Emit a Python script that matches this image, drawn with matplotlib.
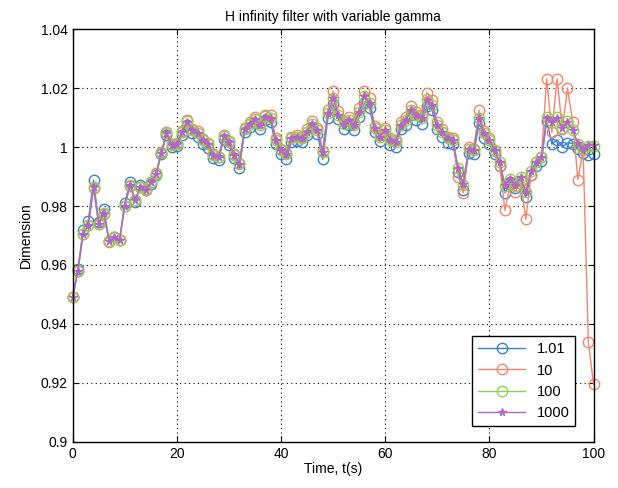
"""H infinity filter with variable gamma - dimension estimate vs time."""

import matplotlib

matplotlib.use("Agg")
import matplotlib.pyplot as plt
import numpy as np

plt.rcParams["font.family"] = ["Liberation Sans", "DejaVu Sans"]

time_s = list(range(0, 101))

gamma_labels = ["1.01", "10", "100", "1000"]

dim_g1_01 = [
    0.949, 0.9585, 0.972, 0.975, 0.9888, 0.9745, 0.979, 0.968, 0.9695, 0.9685,
    0.981, 0.988, 0.9815, 0.987, 0.9855, 0.9875, 0.9905, 0.9975, 1.004, 1.0,
    1.0005, 1.0042, 1.0075, 1.0048, 1.0036, 1.001, 0.9998, 0.9962, 0.9955, 1.0028,
    1.0008, 0.9962, 0.993, 1.005, 1.0068, 1.0082, 1.0062, 1.0092, 1.0085, 1.001,
    0.9978, 0.996, 1.0018, 1.0022, 1.0018, 1.004, 1.0068, 1.0045, 0.9958, 1.0098,
    1.0145, 1.0095, 1.0062, 1.0075, 1.0058, 1.0102, 1.015, 1.0132, 1.005, 1.002,
    1.0042, 1.0008, 1.0002, 1.006, 1.0076, 1.0108, 1.0092, 1.008, 1.0138, 1.0125,
    1.006, 1.0036, 1.0015, 1.001, 0.9915, 0.9855, 0.998, 0.9975, 1.0082, 1.0032,
    1.001, 0.9975, 0.9935, 0.9845, 0.988, 0.986, 0.9885, 0.983, 0.9905, 0.9935,
    0.9952, 1.009, 1.001, 1.0025, 1.0, 1.0015, 1.0012, 0.9995, 0.998, 0.9972,
    0.9978,
]

dim_g10 = [
    0.949, 0.958, 0.9705, 0.9735, 0.9862, 0.9738, 0.9772, 0.9678, 0.9695, 0.9685,
    0.980, 0.9868, 0.982, 0.9865, 0.9857, 0.9882, 0.9912, 0.9982, 1.0052, 1.001,
    1.0015, 1.0056, 1.0092, 1.0062, 1.0053, 1.0028, 1.0015, 0.9975, 0.9968, 1.0042,
    1.0022, 0.9976, 0.9946, 1.0066, 1.0086, 1.0102, 1.0082, 1.011, 1.0108, 1.003,
    0.9994, 0.998, 1.0036, 1.0042, 1.0036, 1.006, 1.0088, 1.0066, 0.9988, 1.0125,
    1.019, 1.0122, 1.0088, 1.0102, 1.0083, 1.0132, 1.019, 1.0168, 1.0072, 1.0042,
    1.0066, 1.003, 1.0024, 1.0084, 1.0102, 1.0138, 1.012, 1.0108, 1.0185, 1.016,
    1.0084, 1.006, 1.0036, 1.003, 0.990, 0.9845, 1.0, 0.9995, 1.0125, 1.0055,
    1.003, 0.9988, 0.9935, 0.9785, 0.9875, 0.9848, 0.9885, 0.9755, 0.9905, 0.9948,
    0.9968, 1.0232, 1.005, 1.0232, 1.0062, 1.020, 1.0086, 0.989, 0.999, 0.934,
    0.9195,
]

dim_g100 = [
    0.949, 0.958, 0.9705, 0.9735, 0.9865, 0.974, 0.9775, 0.968, 0.9695, 0.9685,
    0.980, 0.987, 0.982, 0.9865, 0.9855, 0.988, 0.991, 0.998, 1.0048, 1.0008,
    1.0012, 1.0052, 1.0087, 1.0058, 1.0049, 1.0024, 1.0012, 0.9973, 0.9965, 1.0037,
    1.0018, 0.9973, 0.9944, 1.006, 1.008, 1.0095, 1.0075, 1.0104, 1.0099, 1.0024,
    0.999, 0.9975, 1.003, 1.0035, 1.003, 1.0052, 1.008, 1.0058, 0.9984, 1.0116,
    1.0168, 1.011, 1.008, 1.0092, 1.0075, 1.012, 1.0174, 1.0151, 1.0064, 1.0035,
    1.0058, 1.0024, 1.0018, 1.0075, 1.0092, 1.0127, 1.0109, 1.0098, 1.0162, 1.0144,
    1.0075, 1.0052, 1.003, 1.0024, 0.9928, 0.9873, 0.9995, 0.999, 1.01, 1.0047,
    1.0024, 0.999, 0.995, 0.9868, 0.9893, 0.9868, 0.990, 0.9846, 0.992, 0.995,
    0.9967, 1.0102, 1.0086, 1.0102, 1.0064, 1.009, 1.0058, 1.0012, 0.9995, 1.0005,
    1.0005,
]

dim_g1000 = [
    0.949, 0.958, 0.9705, 0.9735, 0.9865, 0.974, 0.9775, 0.968, 0.9695, 0.9685,
    0.980, 0.987, 0.982, 0.9865, 0.9855, 0.988, 0.991, 0.998, 1.0047, 1.0008,
    1.0012, 1.0052, 1.0086, 1.0058, 1.0049, 1.0024, 1.0012, 0.9973, 0.9965, 1.0037,
    1.0018, 0.9973, 0.9944, 1.006, 1.008, 1.0094, 1.0075, 1.0103, 1.0098, 1.0024,
    0.999, 0.9975, 1.003, 1.0035, 1.003, 1.0052, 1.008, 1.0058, 0.9984, 1.0115,
    1.0166, 1.011, 1.008, 1.0092, 1.0075, 1.012, 1.0172, 1.015, 1.0064, 1.0035,
    1.0058, 1.0024, 1.0018, 1.0075, 1.0092, 1.0126, 1.0109, 1.0098, 1.016, 1.0143,
    1.0075, 1.0052, 1.003, 1.0024, 0.993, 0.9875, 0.9995, 0.999, 1.0098, 1.0047,
    1.0024, 0.999, 0.995, 0.987, 0.9893, 0.987, 0.990, 0.9848, 0.992, 0.995,
    0.9967, 1.0098, 1.0086, 1.0098, 1.0064, 1.0086, 1.0058, 1.0013, 0.9995, 1.0007,
    1.0007,
]

x_ticks = [0, 20, 40, 60, 80, 100]
y_ticks = [0.9, 0.92, 0.94, 0.96, 0.98, 1.0, 1.02, 1.04]
y_tick_labels = ["0.9", "0.92", "0.94", "0.96", "0.98", "1", "1.02", "1.04"]


def main():
    fig = plt.figure(figsize=(6.18, 4.88), dpi=100)
    ax = fig.add_axes([0.1176, 0.0949, 0.8428, 0.8451])

    # draw order as in the original: 1.01 first, 1000 on top
    styles = [
        (dim_g1_01, "#3d7fd6", "o", "none", 7.5),
        (dim_g10, "#f4856c", "o", "none", 7.5),
        (dim_g100, "#93cf4e", "o", "none", 7.5),
        (dim_g1000, "#b466c6", "*", "#b466c6", 5.5),
    ]
    for (vals, col, mk, mfc, ms), lab in zip(styles, gamma_labels):
        ax.plot(time_s, vals, color=col, lw=1.0, marker=mk, ms=ms,
                mfc=mfc, mec=col, mew=1.0, label=lab, clip_on=False)

    ax.set_xlim(0, 100)
    ax.set_ylim(0.9, 1.04)
    ax.set_xticks(x_ticks)
    ax.set_yticks(y_ticks)
    ax.set_yticklabels(y_tick_labels)
    ax.tick_params(direction="in", top=True, right=True, labelsize=10, length=4)
    ax.grid(True, color="black", linestyle=(0, (1, 3)), linewidth=0.8)
    for sp in ax.spines.values():
        sp.set_linewidth(1.0)

    ax.set_title("H infinity filter with variable gamma", fontsize=10)
    ax.set_xlabel("Time, t(s)", fontsize=10, labelpad=1)
    ax.set_ylabel("Dimension", fontsize=10, labelpad=6)

    leg = ax.legend(loc="lower right", bbox_to_anchor=(0.965, 0.038),
                    fontsize=10.5, handlelength=3.2, fancybox=False,
                    framealpha=1, edgecolor="black", borderaxespad=0)
    leg.get_frame().set_linewidth(1.0)
    leg.set_zorder(5)

    fig.savefig("out.png", dpi=100)
    plt.close(fig)


if __name__ == "__main__":
    main()
